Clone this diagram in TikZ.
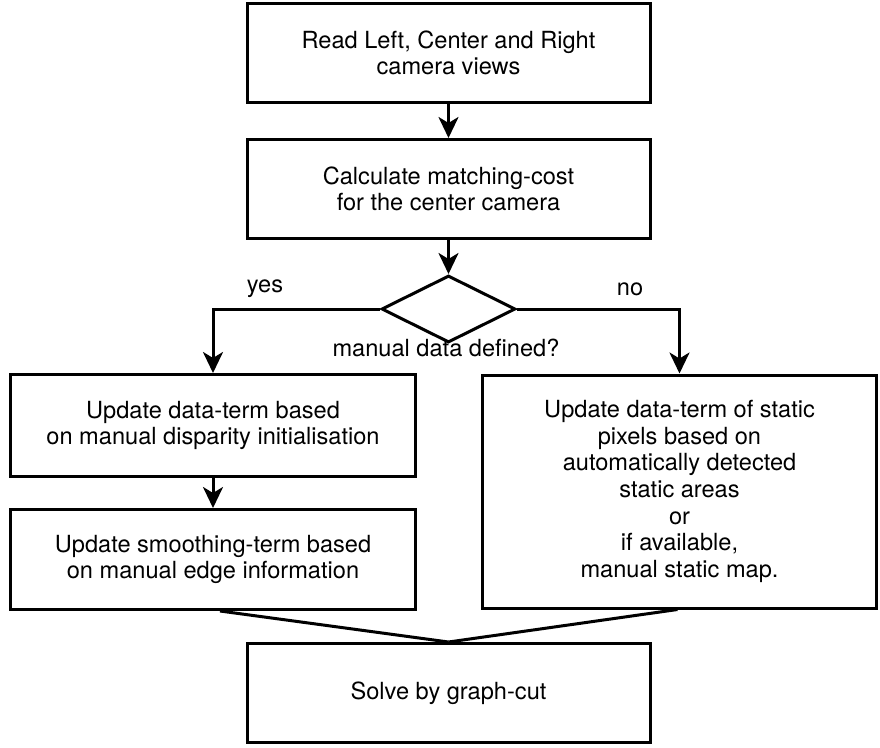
\documentclass[tikz,border=0pt]{standalone}
\usepackage{fontspec}
\setmainfont{TeX Gyre Heros}
\usepackage{tikz}
\usetikzlibrary{arrows.meta,positioning,shapes.geometric}

\begin{document}
\begin{tikzpicture}[->,>={Stealth[length=21pt,width=20pt,inset=6pt]},x=1pt,y=1pt,
  line width=3pt,node distance=35pt,
  box node/.style={rectangle,fill=white,draw,align=center,
    font=\fontsize{23.6}{26.7}\selectfont,minimum width=403pt,minimum height=99pt},
  dec node/.style={diamond,fill=white,draw,inner sep=0pt,
    minimum width=134pt,minimum height=67pt},
  lab node/.style={font=\fontsize{23.6}{26.7}\selectfont,inner sep=0pt}]
  \useasboundingbox (0,0) rectangle (880,-747);
  \node[box node] (read) at (448.5,-53) {Read Left, Center and Right\\camera views};
  \node[box node] (calc) [below=34pt of read] {Calculate matching-cost\\for the center camera};
  \node[dec node] (dec) [below=34pt of calc] {};
  \node[box node,minimum width=405pt,minimum height=102pt] (upd) at (213,-425.5)
    {Update data-term based\\on manual disparity initialisation};
  \node[box node,minimum width=405pt,minimum height=100pt] (smooth) [below=30pt of upd]
    {Update smoothing-term based\\on manual edge information};
  \node[box node,minimum width=394pt,minimum height=233pt] (stat) at (679.5,-491.5)
    {Update data-term of static\\pixels based on\\automatically detected\\static areas\\or\\if available,\\manual static map.};
  \node[box node] (solve) at (448.5,-693) {Solve by graph-cut};

  % labels of the decision
  \node[lab node] (yes) at (265,-289) {yes};
  \node[lab node] (no) at (630,-289) {no};
  \node[lab node] (q) at (446,-348) {manual data defined?};

  \path
    (read) edge (calc)
    (calc) edge (dec)
    (upd) edge (smooth);
  \draw (dec.west) -| (upd.north);
  \draw (dec.east) -| (stat.north);
  \draw[-] ([xshift=7pt]smooth.south) -- (solve.north);
  \draw[-] ([xshift=-2pt]stat.south) -- (solve.north);
\end{tikzpicture}
\end{document}
